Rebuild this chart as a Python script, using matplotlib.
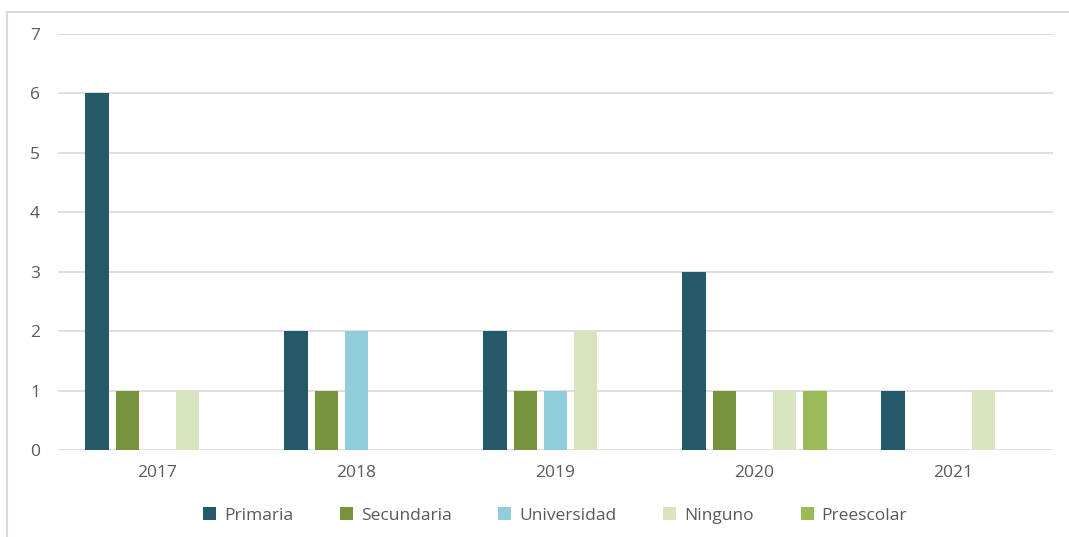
import matplotlib.pyplot as plt
from matplotlib.lines import Line2D
import numpy as np

years = ['2017', '2018', '2019', '2020', '2021']
series = ['Primaria', 'Secundaria', 'Universidad', 'Ninguno', 'Preescolar']
primaria = [6, 2, 2, 3, 1]
secundaria = [1, 1, 1, 1, 0]
universidad = [0, 2, 1, 0, 0]
ninguno = [1, 0, 2, 1, 1]
preescolar = [0, 0, 0, 1, 0]
colors = ['#235968', '#77933C', '#92CDDC', '#D7E4BD', '#9BBB59']

values = [primaria, secundaria, universidad, ninguno, preescolar]

plt.rcParams['font.family'] = ['Open Sans', 'DejaVu Sans']

fig = plt.figure(figsize=(10.69, 5.37), dpi=100)
W, H = 1069, 537
ax = fig.add_axes([58 / W, 1 - 450 / H, (1053 - 58) / W, (450 - 34) / H])

x = np.arange(len(years))
step = 0.151
width = 0.12
for i, (name, vals, c) in enumerate(zip(series, values, colors)):
    ax.bar(x + (i - 2) * step, vals, width, color=c, label=name, zorder=3)

ax.set_xlim(-0.5, 4.5)
ax.set_ylim(0, 7)
ax.set_yticks(range(8))
ax.set_xticks(x)
ax.set_xticklabels(years)
ax.grid(axis='y', color='#D9D9D9', linewidth=1.2, zorder=0)
for s in ax.spines.values():
    s.set_visible(False)
ax.tick_params(axis='both', length=0, labelsize=12.5, labelcolor='#595959')
ax.tick_params(axis='y', pad=13)
ax.tick_params(axis='x', pad=11)

ax.legend(loc='upper center', bbox_to_anchor=(497 / (1053 - 58), -0.1), ncol=5,
          frameon=False, fontsize=12.5, labelcolor='#595959', handlelength=0.75,
          handleheight=0.75, columnspacing=2.7, handletextpad=0.45)

# border around the chart area
fig.add_artist(Line2D([7 / W, 7 / W], [0, 1 - 12 / H], color='#D9D9D9', lw=1.5,
                      transform=fig.transFigure))
fig.add_artist(Line2D([7 / W, 1], [1 - 12 / H, 1 - 12 / H], color='#D9D9D9', lw=1.5,
                      transform=fig.transFigure))

fig.savefig('out.png', dpi=100)
